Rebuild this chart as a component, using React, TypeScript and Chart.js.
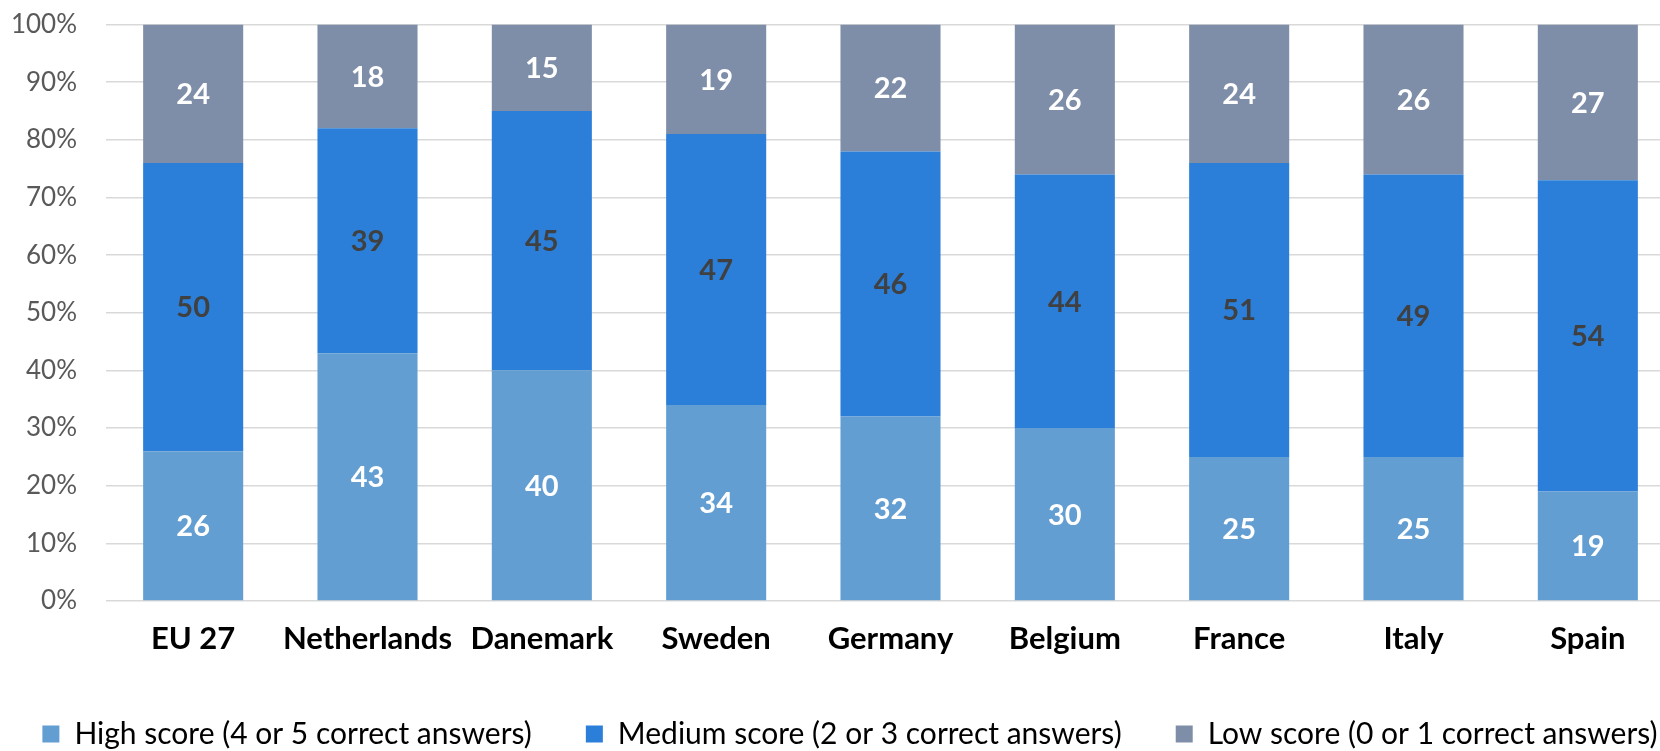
import React, { useEffect, useRef } from "react";
import { Chart, registerables } from "chart.js";

Chart.register(...registerables);

const categories = ["EU 27", "Netherlands", "Danemark", "Sweden", "Germany", "Belgium", "France", "Italy", "Spain"];
const highScore = [26, 43, 40, 34, 32, 30, 25, 25, 19];
const mediumScore = [50, 39, 45, 47, 46, 44, 51, 49, 54];
const lowScore = [24, 18, 15, 19, 22, 26, 24, 26, 27];
const seriesNames = [
  "High score (4 or 5 correct answers)",
  "Medium score (2 or 3 correct answers)",
  "Low score (0 or 1 correct answers)",
];
const seriesColors = ["#639ED2", "#2B7FD8", "#7F8EA8"];
const labelColors = ["#FFFFFF", "#404040", "#FFFFFF"];

const FONT = "Lato, 'Open Sans', sans-serif";

const segmentLabels = {
  id: "segmentLabels",
  afterDatasetsDraw(chart: any) {
    const ctx = chart.ctx;
    ctx.save();
    ctx.font = `bold 29px ${FONT}`;
    ctx.textAlign = "center";
    ctx.textBaseline = "middle";
    chart.data.datasets.forEach((ds: any, di: number) => {
      const meta = chart.getDatasetMeta(di);
      ctx.fillStyle = labelColors[di];
      meta.data.forEach((bar: any, i: number) => {
        const { x, y, base } = bar.getProps(["x", "y", "base"], true);
        ctx.fillText(String(ds.data[i]), x, (y + base) / 2 + 1);
      });
    });
    ctx.restore();
  },
};

const SHIFT_X = 40;
const SHIFT_Y = 20;
const CANVAS_W = 1780;
const CANVAS_H = 779;

export default function App() {
  const ref = useRef<HTMLCanvasElement | null>(null);

  useEffect(() => {
    if (!ref.current) return;
    const chart = new Chart(ref.current, {
      type: "bar",
      data: {
        labels: categories,
        datasets: [
          { label: seriesNames[0], data: highScore, backgroundColor: seriesColors[0] },
          { label: seriesNames[1], data: mediumScore, backgroundColor: seriesColors[1] },
          { label: seriesNames[2], data: lowScore, backgroundColor: seriesColors[2] },
        ],
      },
      options: {
        responsive: false,
        animation: false,
        layout: { padding: { top: 0, left: 0, right: 0, bottom: 0 } },
        datasets: { bar: { barPercentage: 0.574, categoryPercentage: 1 } },
        scales: {
          x: {
            stacked: true,
            grid: { display: false, drawTicks: false },
            border: { display: false },
            ticks: {
              color: "#000000",
              font: { family: FONT, size: 31, weight: "bold" },
              padding: 19,
              maxRotation: 0,
              minRotation: 0,
              autoSkip: false,
            },
            afterFit: (s: any) => { s.height = 64; },
          },
          y: {
            stacked: true,
            min: 0,
            max: 100,
            grid: { color: "#D9D9D9", lineWidth: 1.5, drawTicks: false },
            border: { display: false },
            ticks: {
              stepSize: 10,
              padding: 29,
              color: "#595959",
              font: { family: FONT, size: 26 },
              callback: (v: any) => `${v}%`,
            },
            afterFit: (s: any) => { s.width = 106 + SHIFT_X; },
          },
          y2: {
            position: "right",
            display: true,
            grid: { display: false, drawTicks: false },
            border: { display: false },
            ticks: { display: false },
            afterFit: (s: any) => { s.width = CANVAS_W - (1675 + SHIFT_X); },
          },
        },
        plugins: {
          legend: {
            position: "bottom",
            labels: {
              boxWidth: 17,
              boxHeight: 17,
              padding: 54,
              color: "#000000",
              font: { family: FONT, size: 30 },
            },
          },
          tooltip: { enabled: false },
        },
      } as any,
      plugins: [segmentLabels],
    });
    return () => chart.destroy();
  }, []);

  return (
    <div style={{ position: "fixed", left: 0, top: 0, width: 1660, height: 751, overflow: "hidden", background: "#fff" }}>
      <canvas
        ref={ref}
        width={CANVAS_W}
        height={CANVAS_H}
        style={{ position: "absolute", left: -SHIFT_X, top: -SHIFT_Y, width: CANVAS_W, height: CANVAS_H }}
      />
    </div>
  );
}
